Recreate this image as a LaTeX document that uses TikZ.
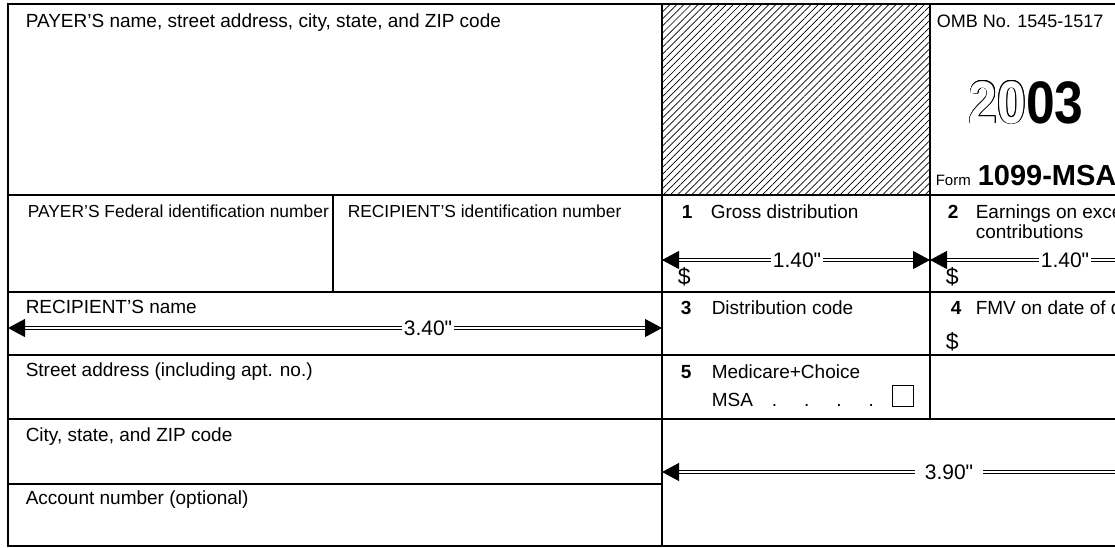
\documentclass[tikz,border=0pt]{standalone}
\usepackage{fontspec}
\setmainfont{Liberation Sans}
\newfontfamily\dimfont[Ligatures=ResetAll]{Liberation Sans}
\usepackage{contour}
\usetikzlibrary{arrows.meta,patterns.meta}

\newcommand{\formfont}{\fontsize{19}{22}\selectfont}
\newcommand{\idfont}{\fontsize{17.4}{21}\selectfont}
\contourlength{0.7pt}

\begin{document}
\begin{tikzpicture}
[
 x=1pt, y=-1pt,
 line width=1.5pt,
 field/.style={anchor=base west,inner sep=0pt,font=\formfont},
 idfield/.style={anchor=base west,inner sep=0pt,font=\idfont},
 boxno/.style={anchor=base west,inner sep=0pt,font=\formfont\bfseries},
 dollar/.style={anchor=base west,inner sep=0pt,font=\fontsize{23}{26}\selectfont},
 dim/.style={double,double distance=2.4pt,line width=0.9pt,-{Triangle[length=17pt,width=18pt]}},
 dimtext/.style={font=\dimfont\fontsize{21}{24}\selectfont,inner sep=1.5pt},
 checkbox/.style={draw,line width=1.3pt,minimum size=21pt,inner sep=0pt}
]
\useasboundingbox (0,0) rectangle (1115,547);
\clip (0,0) rectangle (1115,547);
% hatched box
\fill [pattern={Lines[angle=45,distance=5pt,line width=0.7pt]}] (662,4) rectangle (930,195);
% rules
\draw [line width=2.2pt] (1115,4) -- (8,4) -- (8,546) -- (1115,546);
\draw (8,195) -- (1115,195);
\draw (8,292) -- (1115,292);
\draw (8,355) -- (1115,355);
\draw (8,419) -- (1115,419);
\draw (8,484) -- (662,484);
\draw (662,4) -- (662,546);
\draw (930,4) -- (930,419);
\draw (333,195) -- (333,292);
% left column
\node (payer) [field] at (25,27) {PAYER’S name, street address, city, state, and ZIP code};
\node (payer-id) [idfield] at (27,217) {PAYER’S Federal identification number};
\node (recip-id) [idfield] at (347,217) {RECIPIENT’S identification number};
\node (recip-name) [field] at (25,313) {RECIPIENT’S name};
\node (street) [field] at (25,376) {Street address (including apt. no.)};
\node (city) [field] at (25,441) {City, state, and ZIP code};
\node (account) [field] at (25,504) {Account number (optional)};
% top right
\node (omb) [field,font=\fontsize{18}{21}\selectfont] at (936,27) {OMB No. 1545-1517};
\node (year) [anchor=base west,inner sep=0pt,font=\fontsize{60}{64}\selectfont\bfseries] at (968,123)
 {\scalebox{0.86}[1]{\contour{black}{\textcolor{white}{20}}03}};
\node (form-word) [field,font=\fontsize{15}{17}\selectfont] at (935,185) {Form};
\node (form-no) [field,font=\fontsize{29}{31}\selectfont\bfseries] at (977,185) {1099-MSA};
% boxes 1 and 2
\node (no-1) [boxno] at (681,218) {1};
\node (gross) [field] at (710,218) {Gross distribution};
\node (no-2) [boxno] at (947,218) {2};
\node (earn) [field] at (975,218) {Earnings on excess};
\node (earn-2) [field] at (975,238) {contributions};
\node (dollar-1) [dollar] at (677,284) {\$};
\node (dollar-2) [dollar] at (945,284) {\$};
% boxes 3 and 4
\node (no-3) [boxno] at (680,314) {3};
\node (dist-code) [field] at (711,314) {Distribution code};
\node (no-4) [boxno] at (950,314) {4};
\node (fmv) [field] at (975,314) {FMV on date of death};
\node (dollar-4) [dollar] at (945,349) {\$};
% box 5
\node (no-5) [boxno] at (680,378) {5};
\node (medicare) [field] at (711,378) {Medicare+Choice};
\node (msa) [field] at (711,406) {MSA};
\node (leader) [field] at (771,406) {.\hspace{27pt}.\hspace{27pt}.\hspace{27pt}.};
\node (check) [checkbox] at (903,396) {};
% dimension arrows
\coordinate (b1-left) at (662,260);
\coordinate (b1-right) at (930,260);
\node (w-1) [dimtext] at (797,260) {1.40"};
\draw [dim] (w-1) -- (b1-left);
\draw [dim] (w-1) -- (b1-right);
\coordinate (b2-left) at (930,260);
\coordinate (b2-right) at (1198,260);
\node (w-2) [dimtext] at (1065,260) {1.40"};
\draw [dim] (w-2) -- (b2-left);
\draw [dim] (w-2) -- (b2-right);
\coordinate (name-left) at (8,328);
\coordinate (name-right) at (662,328);
\node (w-3) [dimtext] at (428,328) {3.40"};
\draw [dim] (w-3) -- (name-left);
\draw [dim] (w-3) -- (name-right);
\coordinate (low-left) at (662,472);
\coordinate (low-right) at (1234,472);
\node (w-4) [dimtext,inner xsep=9pt] at (949,472) {3.90"};
\draw [dim] (w-4) -- (low-left);
\draw [dim] (w-4) -- (low-right);
\end{tikzpicture}
\end{document}
